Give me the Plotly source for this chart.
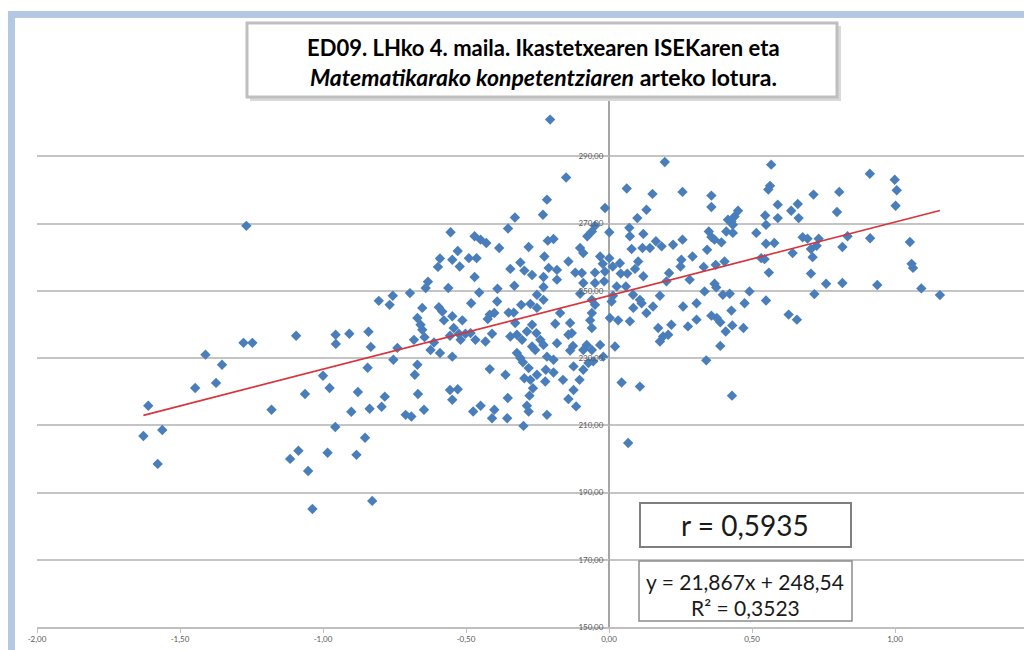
import plotly.graph_objects as go

# ---------------- data ----------------
# x: ikastetxearen ISEK indizea, y: Matematikarako konpetentzia
ise = [
    # left cloud
    -1.611, -1.628, -1.562, -1.578, -1.411, -1.353, -1.447, -1.374, -1.278, -1.247,
    -1.180, -1.094, -1.063, -1.115, -1.086, -1.052, -1.037, -1.000, -0.977, -0.956,
    -0.955, -0.957, -0.984, -0.908, -0.878, -0.901, -0.883, -0.853, -0.828, -0.841,
    -0.833, -0.844, -0.837, -0.795, -0.784, -0.754, -0.740, -0.805, -0.767, -0.756,
    -1.268,
    # upper middle-left
    -0.217, -0.231, -0.329, -0.353, -0.554, -0.470, -0.449, -0.429, -0.384, -0.281,
    -0.214, -0.529, -0.591, -0.548, -0.490, -0.463, -0.598, -0.522, -0.345, -0.310,
    -0.296, -0.269, -0.226, -0.211, -0.470, -0.633, -0.641, -0.696, -0.562, -0.454,
    -0.390, -0.331, -0.229, -0.229, -0.252,
    # lower middle-left
    -0.653, -0.595, -0.583, -0.577, -0.548, -0.482, -0.513, -0.391, -0.417, -0.401,
    -0.424, -0.351, -0.333, -0.307, -0.275, -0.252, -0.229, -0.670, -0.659, -0.653,
    -0.543, -0.525, -0.502, -0.484, -0.556, -0.682, -0.645, -0.612, -0.624, -0.591,
    -0.548, -0.519, -0.467, -0.432, -0.409, -0.345, -0.322, -0.304, -0.287, -0.269,
    -0.254, -0.240, -0.229, -0.328, -0.269, -0.258, -0.217, -0.322, -0.310, -0.301,
    -0.281, -0.296, -0.275, -0.252, -0.221, -0.223, -0.266, -0.278, -0.287, -0.281,
    -0.217, -0.299, -0.356, -0.354, -0.362, -0.417, -0.401, -0.409, -0.449, -0.475,
    -0.670, -0.679, -0.668, -0.647, -0.711, -0.691, -0.556, -0.529, -0.548,
    # upper centre
    -0.206, -0.150, 0.062, 0.195, 0.152, 0.257, -0.014, 0.131, 0.099, -0.049,
    -0.060, -0.076, 0.001, 0.071, 0.073, 0.120, 0.079, 0.117, 0.143, 0.164,
    0.184, 0.224, 0.257, 0.292, 0.253, -0.194, -0.101, -0.090, -0.031, 0.001,
    -0.022, 0.013, 0.038, 0.102, 0.064, 0.041, 0.091, 0.120, -0.142, -0.118,
    -0.095, -0.049, -0.014, -0.182, -0.182, -0.090, -0.049, -0.017, 0.027, 0.059,
    0.210, 0.201, 0.250, 0.282,
    -0.101, -0.060, 0.014, 0.084, 0.108, 0.178,
    # lower centre
    -0.188, -0.136, -0.142, -0.130, -0.182, -0.126, -0.078, -0.060, -0.031, 0.021,
    -0.194, -0.124, -0.090, -0.072, -0.055, -0.020, -0.194, -0.161, -0.103, -0.124,
    -0.142, -0.115, 0.044, 0.108, 0.067, -0.060, -0.066, -0.060, 0.003, 0.032,
    0.073, 0.085, 0.131, 0.114, 0.154, 0.009, 0.259, 0.172, 0.218, 0.189,
    0.207, 0.178, 0.276, 0.306, 0.306, -0.171, -0.049, -0.090, -0.136,
    # right-centre
    0.567, 0.563, 0.557, 0.358, 0.358, 0.715, 0.805, 0.797, 0.590, 0.637,
    0.660, 0.590, 0.663, 0.546, 0.451, 0.439, 0.416, 0.428, 0.433, 0.549,
    0.410, 0.433, 0.515, 0.349, 0.358, 0.369, 0.393, 0.549, 0.578, 0.677,
    0.694, 0.733, 0.726, 0.706, 0.816, 0.343, 0.642, 0.532, 0.544, 0.712,
    0.404, 0.373, 0.331, 0.559, 0.706, 0.759, 0.816, 0.718, 0.369, 0.375,
    0.334, 0.398, 0.422, 0.491, 0.549, 0.474, 0.428, 0.358, 0.377, 0.389,
    0.431, 0.408, 0.470, 0.628, 0.657, 0.389, 0.340, 0.430,
    # far right
    0.912, 0.999, 1.006, 1.002, 0.834, 0.913, 1.052, 1.058, 1.063, 0.938,
    1.092, 1.157,
]
mate = [
    # left cloud
    215.8, 206.8, 208.6, 198.5, 231.0, 228.0, 221.1, 222.6, 234.5, 234.5,
    214.6, 236.6, 219.3, 200.0, 202.4, 196.4, 185.1, 224.7, 221.1, 236.9,
    234.2, 209.5, 201.8, 237.2, 219.9, 214.0, 201.2, 206.3, 187.5, 237.8,
    233.3, 227.1, 214.9, 215.5, 218.5, 229.5, 233.0, 247.0, 245.8, 248.5,
    269.3,
    # upper middle-left
    277.1, 272.6, 271.8, 268.5, 267.4, 266.2, 265.2, 264.2, 262.7, 263.0,
    264.9, 261.8, 259.6, 259.2, 259.7, 259.7, 257.1, 257.2, 256.5, 258.4,
    256.0, 254.7, 260.2, 256.8, 254.1, 252.7, 250.8, 249.3, 250.8, 249.5,
    250.6, 251.5, 254.1, 251.1, 248.8,
    # lower middle-left
    244.9, 245.1, 243.8, 241.2, 242.4, 246.3, 241.2, 246.8, 242.9, 243.4,
    241.6, 243.5, 243.5, 245.8, 246.1, 244.9, 247.3, 241.9, 239.9, 238.4,
    238.9, 237.2, 237.2, 237.4, 236.6, 235.4, 236.2, 234.6, 232.4, 231.5,
    230.4, 235.4, 235.4, 234.9, 237.2, 236.4, 236.9, 235.4, 237.9, 239.9,
    237.4, 235.4, 233.9, 240.4, 233.4, 232.4, 230.4, 231.5, 230.0, 228.7,
    227.0, 224.0, 223.5, 225.0, 226.5, 223.0, 221.0, 218.8, 215.8, 214.1,
    213.1, 209.8, 212.1, 218.1, 225.0, 226.7, 214.6, 212.1, 215.8, 214.1,
    228.0, 225.0, 219.3, 214.6, 213.1, 212.6, 220.5, 220.7, 217.6,
    # upper centre
    300.9, 283.7, 280.4, 288.3, 278.8, 279.4, 274.6, 274.1, 271.6, 269.3,
    267.6, 266.2, 267.4, 268.7, 266.2, 266.9, 262.4, 262.7, 262.7, 264.7,
    263.2, 263.7, 265.2, 260.2, 259.2, 265.4, 262.7, 261.2, 260.2, 259.7,
    258.0, 257.2, 258.2, 258.7, 255.1, 255.1, 256.5, 254.3, 258.7, 255.4,
    255.3, 255.4, 255.7, 256.2, 253.3, 252.3, 252.3, 252.8, 251.3, 251.3,
    255.3, 252.8, 257.2, 253.3,
    249.1, 247.3, 248.5, 248.8, 247.3, 248.5,
    # lower centre
    240.2, 240.4, 236.9, 237.4, 234.4, 233.6, 233.9, 232.4, 233.9, 233.4,
    229.5, 227.5, 226.5, 228.5, 229.0, 230.4, 225.7, 223.5, 223.5, 220.5,
    217.8, 215.6, 222.7, 221.5, 204.7, 243.4, 241.2, 238.9, 241.9, 241.2,
    240.9, 244.9, 243.4, 246.3, 245.3, 246.8, 245.3, 238.9, 239.9, 236.4,
    236.9, 234.9, 239.4, 241.4, 246.3, 243.4, 245.8, 232.4, 232.2,
    # right-centre
    287.5, 281.2, 280.1, 278.3, 274.9, 278.6, 279.4, 273.4, 275.6, 273.8,
    275.8, 271.6, 271.6, 272.4, 273.8, 272.1, 271.1, 270.6, 269.6, 269.6,
    267.6, 267.2, 267.2, 267.6, 266.0, 265.2, 264.4, 264.0, 264.2, 265.9,
    265.5, 265.5, 263.4, 262.4, 263.0, 262.2, 261.2, 259.7, 259.4, 260.0,
    258.7, 257.7, 257.1, 255.4, 255.1, 252.1, 252.3, 249.0, 252.1, 251.0,
    249.8, 248.8, 249.1, 249.8, 247.1, 246.3, 244.1, 242.6, 241.9, 240.6,
    239.7, 237.9, 238.9, 242.9, 241.4, 233.6, 229.3, 218.8,
    # far right
    284.8, 283.0, 279.9, 275.3, 266.2, 265.6, 264.5, 258.0, 256.8, 251.7,
    250.7, 248.7,
]
assert len(ise) == len(mate)

trend_coef = [21.867, 248.54]          # y = a*x + b
x_ticks = [-2.0, -1.5, -1.0, -0.5, 0.0, 0.5, 1.0]
x_tick_labels = ["-2,00", "-1,50", "-1,00", "-0,50", "0,00", "0,50", "1,00"]
y_ticks = [150, 170, 190, 210, 230, 250, 270, 290, 310]
# the 310 label is hidden behind the title box in the reference
y_tick_labels = ["150,00", "170,00", "190,00", "210,00", "230,00",
                 "250,00", "270,00", "290,00", ""]
title_line1 = "<b>ED09. LHko 4. maila. Ikastetxearen ISEKaren eta</b>"
title_line2 = "<b><i>Matematikarako konpetentziaren</i> arteko lotura.</b>"
r_text = "r = 0,5935"
eq_line1 = "y = 21,867x + 248,54"
eq_line2 = "R² = 0,3523"

# ---------------- layout geometry ----------------
W, H = 1024, 650
ML, MR, MT, MB = 37, 0, 89, 23
XMIN, XMAX = -2.0, 1.451
YMIN, YMAX = 150, 310
PW, PH = W - ML - MR, H - MT - MB


def px(xp):
    return (xp - ML) / PW


def py(yp):
    return (H - MB - yp) / PH


FONT = "Lato"

fig = go.Figure()
fig.add_trace(go.Scatter(
    x=ise, y=mate, mode="markers",
    marker=dict(symbol="diamond", size=8, color="#4a7ebb", line=dict(width=0)),
    hoverinfo="skip", showlegend=False))

x0, x1 = min(ise), max(ise)
fig.add_trace(go.Scatter(
    x=[x0, x1], y=[trend_coef[0] * x0 + trend_coef[1], trend_coef[0] * x1 + trend_coef[1]],
    mode="lines", line=dict(color="#d8343c", width=1.6),
    hoverinfo="skip", showlegend=False))

shapes = []
# light blue frame (top and left)
shapes.append(dict(type="rect", xref="paper", yref="paper", layer="above",
                   x0=px(8), x1=px(1030), y0=py(11), y1=py(18),
                   fillcolor="#b4c8e4", line=dict(width=0)))
shapes.append(dict(type="rect", xref="paper", yref="paper", layer="above",
                   x0=px(8), x1=px(15), y0=py(11), y1=py(660),
                   fillcolor="#b4c8e4", line=dict(width=0)))
# title box with soft shadow
shapes.append(dict(type="rect", xref="paper", yref="paper", layer="above",
                   x0=px(250), x1=px(841), y0=py(26), y1=py(101),
                   fillcolor="#d9d9d9", line=dict(width=0)))
shapes.append(dict(type="rect", xref="paper", yref="paper", layer="above",
                   x0=px(247), x1=px(837), y0=py(23), y1=py(97),
                   fillcolor="white", line=dict(color="#bfbfbf", width=3)))
# r box
shapes.append(dict(type="rect", xref="paper", yref="paper", layer="above",
                   x0=px(640), x1=px(851), y0=py(503), y1=py(547),
                   fillcolor="white", line=dict(color="#7f7f7f", width=2)))
# equation box
shapes.append(dict(type="rect", xref="paper", yref="paper", layer="above",
                   x0=px(639), x1=px(852), y0=py(561), y1=py(621),
                   fillcolor="white", line=dict(color="#8c8c8c", width=1.5)))

ann = []
ann.append(dict(x=px(543), y=py(47), xref="paper", yref="paper", text=title_line1,
                showarrow=False, font=dict(family=FONT, size=22, color="#000000"),
                xanchor="center", yanchor="middle"))
ann.append(dict(x=px(543), y=py(77), xref="paper", yref="paper", text=title_line2,
                showarrow=False, font=dict(family=FONT, size=23, color="#000000"),
                xanchor="center", yanchor="middle"))
ann.append(dict(x=px(745), y=py(525), xref="paper", yref="paper", text=r_text,
                showarrow=False, font=dict(family=FONT, size=28, color="#1a1a1a"),
                xanchor="center", yanchor="middle"))
ann.append(dict(x=px(745), y=py(581), xref="paper", yref="paper", text=eq_line1,
                showarrow=False, font=dict(family=FONT, size=21, color="#1a1a1a"),
                xanchor="center", yanchor="middle"))
ann.append(dict(x=px(745), y=py(607), xref="paper", yref="paper", text=eq_line2,
                showarrow=False, font=dict(family=FONT, size=21, color="#1a1a1a"),
                xanchor="center", yanchor="middle"))

fig.update_layout(
    width=W, height=H,
    margin=dict(l=ML, r=MR, t=MT, b=MB, pad=0),
    paper_bgcolor="white", plot_bgcolor="white",
    showlegend=False,
    shapes=shapes, annotations=ann,
    xaxis=dict(range=[XMIN, XMAX], tickvals=x_ticks, ticktext=x_tick_labels,
               showgrid=False, zeroline=True, zerolinecolor="#a6a6a6", zerolinewidth=1.5,
               showline=True, linecolor="#bfbfbf", linewidth=1.5,
               ticks="outside", ticklen=4, tickcolor="#bfbfbf", tickwidth=1,
               tickfont=dict(family=FONT, size=8, color="#595959"),
               fixedrange=True),
    yaxis=dict(range=[YMIN, YMAX], tickvals=y_ticks, ticktext=y_tick_labels,
               showgrid=True, gridcolor="#c4c4c4", gridwidth=1.5, zeroline=False,
               anchor="free", position=(0 - XMIN) / (XMAX - XMIN),
               showline=False, ticks="outside", ticklen=4, tickcolor="#bfbfbf",
               tickfont=dict(family=FONT, size=8, color="#595959"),
               fixedrange=True),
)

fig.write_html("out.html")
